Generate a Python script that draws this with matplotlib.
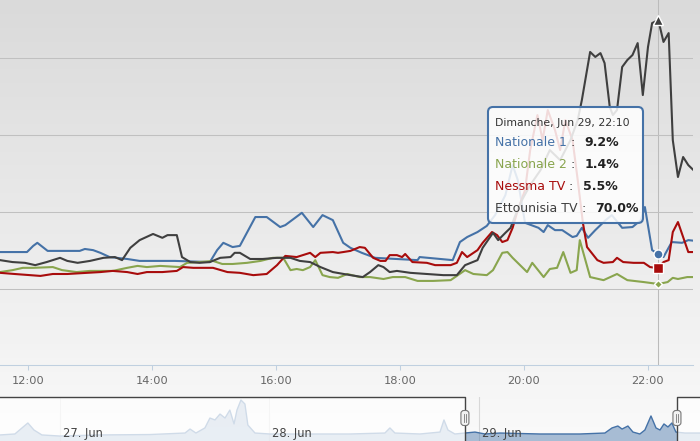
import numpy as np
import matplotlib
matplotlib.use("Agg")
import matplotlib.pyplot as plt
from matplotlib.patches import FancyBboxPatch

# ---------------- data ----------------
SERIES_NAMES = ["Nationale 1", "Nationale 2", "Nessma TV", "Ettounisia TV"]
SERIES_COLORS = ["#4572A7", "#89A54E", "#A80C0C", "#3F3F3F"]
SERIES_MARKERS = ["o", "D", "s", "^"]

N1_TIMES = ["11:33", "11:59", "12:05", "12:09", "12:19", "12:31", "12:50", "12:55", "13:03", "13:10",
            "13:19", "13:36", "13:48", "14:22", "14:56", "15:03", "15:09", "15:18", "15:25", "15:40",
            "15:51", "16:04", "16:09", "16:25", "16:36", "16:45", "16:55", "17:05", "17:12", "17:23",
            "17:36", "18:17", "18:19", "18:51", "18:58", "19:05", "19:15", "19:24", "19:32", "19:42",
            "19:49", "19:54", "20:01", "20:14", "20:19", "20:23", "20:30", "20:37", "20:47", "20:51",
            "20:56", "21:02", "21:09", "21:14", "21:19", "21:25", "21:35", "21:45", "21:53", "21:57",
            "22:04", "22:10", "22:15", "22:23", "22:33", "22:39", "22:46"]
N1_VALUES = [9.7, 9.7, 11.3, 12.1, 10.0, 10.0, 10.0, 10.5, 10.2, 9.5,
             8.4, 7.9, 7.4, 7.4, 7.1, 10.2, 12.1, 11.0, 11.3, 18.8,
             18.8, 16.2, 16.7, 19.9, 16.2, 19.3, 18.0, 12.1, 10.8, 9.5,
             8.2, 7.6, 8.4, 7.6, 12.3, 13.6, 14.9, 16.5, 19.3, 24.5,
             32.3, 28.4, 17.3, 16.0, 14.9, 16.7, 15.4, 15.4, 13.6, 13.9,
             16.0, 13.4, 15.4, 16.7, 18.0, 19.3, 16.0, 16.2, 18.0, 21.4,
             10.2, 9.2, 8.4, 12.3, 12.1, 12.8, 12.6]

N2_TIMES = ["11:33", "11:45", "11:55", "12:05", "12:24", "12:33", "12:47", "13:00", "13:22", "13:36",
            "13:46", "13:55", "14:08", "14:27", "14:34", "14:46", "14:59", "15:08", "15:18", "15:32",
            "15:45", "15:57", "16:07", "16:14", "16:20", "16:26", "16:33", "16:38", "16:45", "16:52",
            "17:00", "17:09", "17:21", "17:31", "17:44", "17:53", "18:05", "18:17", "18:32", "18:49",
            "18:55", "19:03", "19:11", "19:24", "19:30", "19:39", "19:44", "19:49", "20:03", "20:08",
            "20:19", "20:25", "20:32", "20:38", "20:45", "20:51", "20:54", "21:04", "21:17", "21:30",
            "21:40", "21:56", "22:10", "22:19", "22:24", "22:29", "22:38", "22:46"]
N2_VALUES = [4.5, 5.0, 5.6, 5.6, 5.8, 5.0, 4.5, 4.8, 4.8, 5.6,
             6.1, 5.8, 6.1, 5.8, 6.9, 7.1, 7.4, 6.6, 6.6, 6.9,
             7.4, 8.2, 8.2, 5.0, 5.3, 5.0, 5.8, 7.6, 3.7, 3.2,
             3.0, 4.0, 3.2, 3.2, 2.7, 3.2, 3.2, 2.2, 2.2, 2.4,
             3.5, 5.0, 4.0, 3.7, 5.0, 9.5, 9.7, 8.2, 4.5, 6.9,
             3.2, 5.3, 5.6, 9.7, 4.3, 5.0, 12.8, 3.2, 2.4, 4.0,
             2.4, 1.9, 1.4, 1.9, 3.0, 2.7, 3.2, 3.2]

NESSMA_TIMES = ["11:33", "11:47", "12:12", "12:24", "12:38", "12:57", "13:10", "13:22", "13:36", "13:46",
                "13:55", "14:10", "14:24", "14:30", "14:40", "14:59", "15:13", "15:25", "15:38", "15:51",
                "16:01", "16:09", "16:20", "16:33", "16:38", "16:43", "16:55", "17:00", "17:05", "17:12",
                "17:21", "17:26", "17:34", "17:41", "17:46", "17:50", "17:57", "18:02", "18:05", "18:12",
                "18:26", "18:34", "18:49", "18:55", "19:00", "19:05", "19:15", "19:20", "19:29", "19:34",
                "19:39", "19:44", "19:49", "19:54", "20:01", "20:06", "20:13", "20:18", "20:23", "20:30",
                "20:35", "20:40", "20:47", "20:52", "20:57", "21:01", "21:11", "21:17", "21:26", "21:30",
                "21:36", "21:46", "21:56", "22:02", "22:10", "22:15", "22:20", "22:24", "22:29", "22:34",
                "22:39", "22:46"]
NESSMA_VALUES = [4.3, 4.0, 3.5, 4.0, 4.0, 4.3, 4.5, 4.8, 4.5, 4.0,
                 4.5, 4.5, 4.8, 5.8, 5.6, 5.6, 4.5, 4.3, 3.7, 4.0,
                 6.3, 8.7, 8.4, 9.5, 8.4, 9.5, 9.7, 9.5, 9.7, 10.0,
                 11.0, 10.8, 8.2, 7.4, 7.4, 8.9, 8.9, 8.4, 9.2, 7.1,
                 6.9, 6.3, 6.3, 6.9, 9.7, 8.4, 10.2, 12.1, 14.9, 14.1,
                 12.3, 12.8, 16.0, 20.6, 25.8, 36.2, 45.3, 38.8, 46.6, 41.4,
                 36.2, 44.0, 38.8, 28.4, 17.3, 11.0, 7.6, 6.9, 7.1, 8.2,
                 7.1, 6.9, 6.9, 5.8, 5.5, 7.1, 7.6, 14.9, 17.5, 13.6,
                 9.7, 9.7]

ETT_TIMES = ["11:33", "11:45", "11:57", "12:07", "12:18", "12:31", "12:38", "12:48", "13:00", "13:13",
             "13:24", "13:31", "13:39", "13:48", "14:01", "14:10", "14:15", "14:24", "14:29", "14:37",
             "14:46", "14:56", "15:06", "15:16", "15:20", "15:25", "15:35", "15:47", "16:01", "16:14",
             "16:23", "16:33", "16:43", "16:55", "17:12", "17:24", "17:31", "17:39", "17:44", "17:50",
             "17:57", "18:10", "18:26", "18:42", "18:55", "19:03", "19:15", "19:20", "19:30", "19:35",
             "19:42", "19:47", "19:51", "19:58", "20:06", "20:16", "20:25", "20:35", "20:45", "20:52",
             "20:56", "21:04", "21:09", "21:14", "21:18", "21:23", "21:26", "21:30", "21:35", "21:40",
             "21:45", "21:50", "21:55", "22:00", "22:04", "22:10", "22:15", "22:20", "22:24", "22:29",
             "22:34", "22:39", "22:44"]
ETT_VALUES = [7.6, 7.1, 6.9, 6.3, 7.1, 8.2, 7.4, 6.9, 7.4, 8.2,
              8.4, 7.6, 10.8, 12.8, 14.4, 13.4, 14.1, 14.1, 8.4, 7.1,
              6.9, 7.1, 8.2, 8.4, 9.5, 9.5, 7.9, 7.9, 8.2, 8.2,
              7.4, 7.1, 5.8, 4.5, 3.7, 3.2, 4.5, 6.3, 5.8, 4.5,
              4.8, 4.3, 4.0, 3.7, 3.7, 6.3, 7.6, 10.8, 14.7, 12.8,
              14.7, 16.0, 18.8, 23.2, 27.1, 31.0, 36.2, 33.6, 38.8, 44.0,
              49.2, 61.7, 60.4, 61.4, 58.8, 47.4, 45.3, 46.6, 57.8, 59.6,
              60.9, 64.0, 50.5, 63.0, 69.2, 70.0, 64.3, 66.6, 38.8, 29.2,
              34.4, 32.3, 31.0]

HOVER_TIME = "22:10"
HOVER_HEADER = "Dimanche, Jun 29, 22:10"
X_TICKS = ["12:00", "14:00", "16:00", "18:00", "20:00", "22:00"]
Y_GRID = [0, 20, 40, 60]

NAV_DAYS = [26.714, 26.785, 26.819, 26.847, 26.876, 26.914, 27.000, 27.191, 27.430, 27.597,
            27.621, 27.649, 27.692, 27.716, 27.740, 27.764, 27.788, 27.811, 27.831, 27.845,
            27.864, 27.883, 27.897, 27.931, 28.002, 28.146, 28.384, 28.551, 28.575, 28.599,
            28.718, 28.814, 28.833, 28.852, 28.885, 28.933, 28.981, 29.029, 29.100, 29.291,
            29.482, 29.601, 29.635, 29.663, 29.683, 29.711, 29.735, 29.768, 29.792, 29.821,
            29.845, 29.864, 29.883, 29.902, 29.921, 29.940, 29.983, 30.055]
NAV_VALUES = [4.4, 5.1, 9.5, 13.1, 8.0, 4.4, 3.6, 4.4, 4.7, 5.8,
              8.7, 5.8, 9.5, 16.7, 15.3, 19.6, 16.7, 22.5, 12.4, 22.5,
              29.8, 26.9, 11.6, 5.8, 5.1, 5.1, 5.1, 5.8, 9.5, 5.8,
              5.1, 6.5, 15.3, 8.0, 5.1, 5.8, 6.5, 5.1, 5.8, 5.1,
              5.1, 5.8, 9.5, 10.9, 8.7, 10.9, 6.5, 5.1, 8.0, 18.2,
              9.5, 8.0, 12.4, 10.2, 13.1, 6.5, 5.8, 5.8]
NAV_LABEL_DAYS = [27, 28, 29]
NAV_LABELS = ["27. Jun", "28. Jun", "29. Jun"]
NAV_SELECTION = (28.933, 29.945)


def hours(ts):
    out = []
    for s in ts:
        h, m = s.split(":")
        out.append(int(h) + int(m) / 60.0)
    return np.array(out)


W, H = 700, 441
fig = plt.figure(figsize=(W / 100, H / 100), dpi=100)

# background gradient
bg = fig.add_axes([0, 0, 1, 1], zorder=-10)
g = np.linspace(218, 250, H) / 255.0
img = np.repeat(g[:, None, None], 3, axis=2)
bg.imshow(img, aspect="auto", extent=[0, 1, 0, 1], interpolation="bilinear")
bg.set_axis_off()

# ---------------- main chart ----------------
ax = fig.add_axes([0, 1 - 365 / H, 693 / W, 365 / H], zorder=1)
ax.set_facecolor("none")
ax.set_xlim(11.548, 22.726)
ax.set_ylim(-19.65, 75.2)
ax.set_yticks(Y_GRID)
ax.grid(axis="y", color="#C0C0C0", lw=0.75)
ax.tick_params(axis="y", length=0, labelleft=False)
ax.set_xticks(hours(X_TICKS))
ax.set_xticklabels(X_TICKS)
ax.tick_params(axis="x", length=3.6, width=0.75, color="#C0D0E0",
               labelcolor="#666666", labelsize=8.2, pad=4.0)
for s in ["top", "left", "right"]:
    ax.spines[s].set_visible(False)
ax.spines["bottom"].set_color("#C0D0E0")
ax.spines["bottom"].set_linewidth(0.75)

hover_h = hours([HOVER_TIME])[0]
ax.axvline(hover_h, color="#BBBBBB", lw=0.75, zorder=1)

all_series = [(N1_TIMES, N1_VALUES), (N2_TIMES, N2_VALUES),
              (NESSMA_TIMES, NESSMA_VALUES), (ETT_TIMES, ETT_VALUES)]
hover_vals = []
for (ts, vs), col, mk in zip(all_series, SERIES_COLORS, SERIES_MARKERS):
    x = hours(ts)
    ax.plot(x, vs, color=col, lw=1.5, solid_joinstyle="round", zorder=3)
    i = ts.index(HOVER_TIME)
    hover_vals.append(vs[i])
    ms = {"o": 6.5, "D": 4.5, "s": 6.5, "^": 7}[mk]
    ax.plot([x[i]], [vs[i]], marker=mk, ms=ms, mfc=col, mec="white", mew=1.0,
            zorder=6, linestyle="none")

# ---------------- navigator ----------------
NAV_X0, NAV_X1 = 26.714, 30.055
nav = fig.add_axes([0, 0, 1, 44 / H], zorder=1)
nav.set_facecolor("none")
nav.set_xlim(NAV_X0, NAV_X1)
nav.set_ylim(0, 32)
nav.set_axis_off()
for d in NAV_LABEL_DAYS:
    nav.axvline(d, color="#D8D8D8", lw=0.8, zorder=1)
nav.fill_between(NAV_DAYS, NAV_VALUES, 0, color="#4572A7", alpha=0.45, lw=0, zorder=2)
nav.plot(NAV_DAYS, NAV_VALUES, color="#4572A7", lw=1.0, zorder=3)
s0, s1 = NAV_SELECTION
nav.axvspan(NAV_X0, s0, color="white", alpha=0.75, lw=0, zorder=4)
nav.axvspan(s1, NAV_X1, color="white", alpha=0.75, lw=0, zorder=4)
for d, lab in zip(NAV_LABEL_DAYS, NAV_LABELS):
    nav.text(d + 0.014, 5.8, lab, fontsize=8.3, color="#444444", va="center",
             ha="left", zorder=5)
nav.plot([NAV_X0, s0, s0], [31.7, 31.7, 0], color="#444444", lw=1.0,
         clip_on=False, zorder=6)
nav.plot([s1, s1, NAV_X1], [0, 31.7, 31.7], color="#444444", lw=1.0,
         clip_on=False, zorder=6)

# ---------------- overlay (tooltip, handles) ----------------
ov = fig.add_axes([0, 0, 1, 1], zorder=10)
ov.set_xlim(0, W)
ov.set_ylim(H, 0)
ov.set_axis_off()
ov.set_facecolor("none")

for s in (s0, s1):
    px = (s - NAV_X0) / (NAV_X1 - NAV_X0) * W
    ov.add_patch(FancyBboxPatch((px - 4, 410.5), 8, 15,
                                boxstyle="round,pad=0,rounding_size=3",
                                fc="#F2F2F2", ec="#777777", lw=0.8))
    for dx in (-1.2, 1.2):
        ov.plot([px + dx, px + dx], [414, 422], color="#777777", lw=0.6)

ov.add_patch(FancyBboxPatch((488, 107), 155, 116,
                            boxstyle="round,pad=0,rounding_size=5",
                            fc=(1, 1, 1, 0.85), ec="#4572A7", lw=1.5))
ov.text(495, 123, HOVER_HEADER, fontsize=7.8, color="#333333", va="center", ha="left")
for k, (name, col, v) in enumerate(zip(SERIES_NAMES, SERIES_COLORS, hover_vals)):
    y = 142 + k * 22.2
    t = ov.text(495, y, name, fontsize=9, color=col, va="center", ha="left")
    c = ov.annotate(" :", xy=(1, 0.5), xycoords=t, va="center", ha="left",
                    fontsize=9, color="#333333")
    ov.annotate(f"{v:.1f}%", xy=(1, 0.5), xycoords=c, xytext=(6.5, 0),
                textcoords="offset points", va="center", ha="left",
                fontsize=9, fontweight="bold", color="#222222")

fig.savefig("out.png", dpi=100)
